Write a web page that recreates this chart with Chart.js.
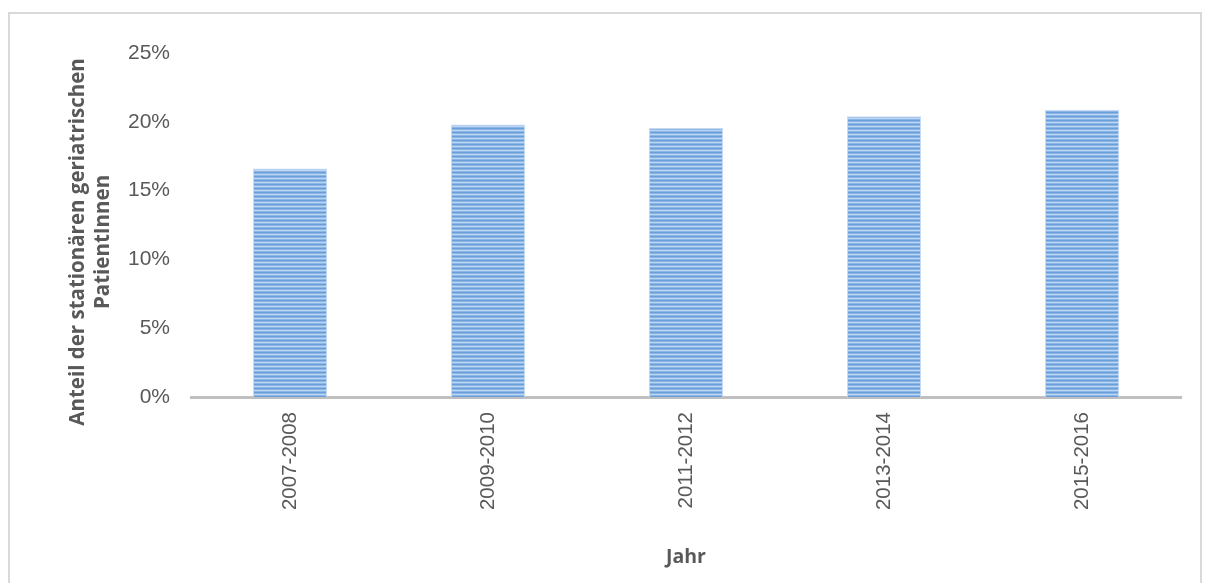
<!DOCTYPE html>
<html lang="de">
<head>
<meta charset="utf-8">
<script src="https://cdn.jsdelivr.net/npm/chart.js@4"></script>
<style>
  html, body { margin: 0; padding: 0; background: #fff; }
  #wrap { position: relative; width: 1206px; height: 583px; overflow: hidden; }
  #frame {
    position: absolute; left: 8px; top: 12px; width: 1194px; height: 600px;
    border: 2px solid #d9d9d9; box-sizing: border-box;
  }
  #chart { position: absolute; left: 0; top: 0; }
</style>
</head>
<body>
<div id="wrap">
  <div id="frame"></div>
  <canvas id="chart" width="1206" height="583"></canvas>
</div>
<script>
// Zeiträume und Anteile (in %)
const jahre = ['2007-2008', '2009-2010', '2011-2012', '2013-2014', '2015-2016'];
const anteil = [16.6, 19.8, 19.55, 20.4, 20.85];
const yTicks = [0, 5, 10, 15, 20, 25];
const yTitel = ['Anteil der stationären geriatrischen', 'PatientInnen'];
const xTitel = 'Jahr';

const grau = '#595959';

// horizontal gestreifte Füllung für die Balken
function streifenMuster() {
  const c = document.createElement('canvas');
  c.width = 4; c.height = 4;
  const g = c.getContext('2d');
  const farben = ['#6a9edb', '#8cb6e6', '#bcd5f1', '#8cb6e6'];
  farben.forEach((f, i) => { g.fillStyle = f; g.fillRect(0, i, 4, 1); });
  return g.createPattern(c, 'repeat');
}

// Y-Achsentitel zweizeilig, links vom Diagramm
const yTitelPlugin = {
  id: 'yTitel',
  afterDraw(chart) {
    const { ctx, chartArea } = chart;
    const mitte = (chartArea.top + chartArea.bottom) / 2 + 17;
    ctx.save();
    ctx.fillStyle = grau;
    ctx.font = 'bold 20.5px "Open Sans"';
    ctx.textAlign = 'center';
    ctx.textBaseline = 'middle';
    yTitel.forEach((zeile, i) => {
      ctx.save();
      ctx.translate(78 + i * 25, mitte);
      ctx.rotate(-Math.PI / 2);
      ctx.fillText(zeile, 0, 0);
      ctx.restore();
    });
    ctx.restore();
  }
};

const ctx = document.getElementById('chart').getContext('2d');

new Chart(ctx, {
  type: 'bar',
  data: {
    labels: jahre,
    datasets: [{
      data: anteil,
      backgroundColor: streifenMuster(),
      borderColor: '#c6dbf3',
      borderWidth: 1,
      categoryPercentage: 1,
      barPercentage: 0.374
    }]
  },
  options: {
    responsive: false,
    animation: false,
    events: [],
    layout: { padding: { left: 0, right: 25, top: 53, bottom: 0 } },
    plugins: {
      legend: { display: false },
      tooltip: { enabled: false }
    },
    scales: {
      x: {
        grid: { display: false, drawTicks: false },
        border: { display: true, color: '#bfbfbf', width: 3 },
        ticks: {
          color: grau,
          font: { family: '"Liberation Sans"', size: 20.5 },
          minRotation: 90,
          maxRotation: 90,
          padding: 15
        },
        title: {
          display: true,
          text: xTitel,
          color: grau,
          font: { family: '"Open Sans"', size: 19.5, weight: 'bold' },
          padding: { top: 0, bottom: 14 }
        },
        afterFit(scale) { scale.height = 583 - 397; }
      },
      y: {
        min: 0,
        max: 25,
        grid: { display: false, drawTicks: false },
        border: { display: false },
        afterBuildTicks(scale) { scale.ticks = yTicks.map(v => ({ value: v })); },
        ticks: {
          color: grau,
          font: { family: '"Liberation Sans"', size: 21 },
          padding: 21,
          callback: v => v + '%'
        },
        afterFit(scale) { scale.width = 191; }
      }
    }
  },
  plugins: [yTitelPlugin]
});
</script>
</body>
</html>
